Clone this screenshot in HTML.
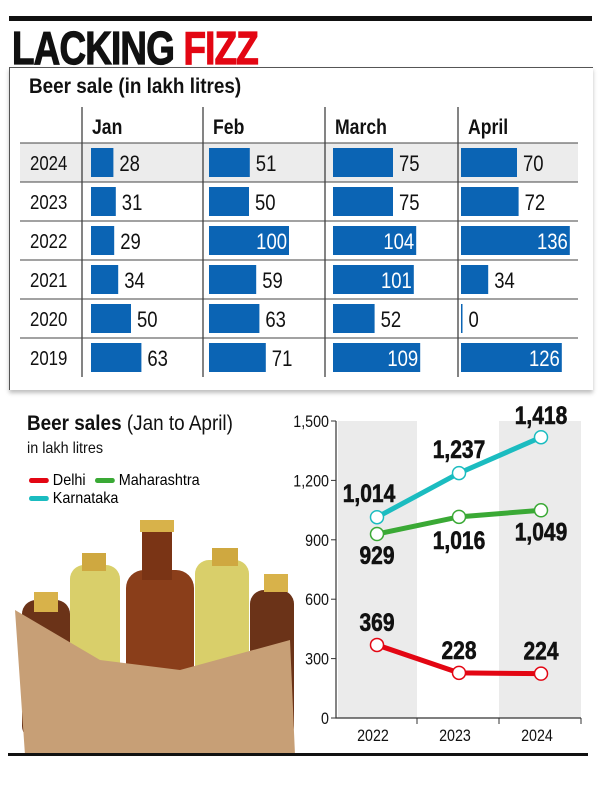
<!DOCTYPE html>
<html><head><meta charset="utf-8">
<style>
body{margin:0;background:#fff;width:600px;height:795px;overflow:hidden;position:relative;font-family:"Liberation Sans",sans-serif;}
.abs{position:absolute;white-space:nowrap;}
.cond{transform:scaleX(0.9);transform-origin:top left;}
</style></head>
<body>
<div class="abs" style="left:9px;top:16px;width:583px;height:5px;background:#111"></div>
<div class="abs" style="left:12px;top:21px;font:bold 46px 'Liberation Sans',sans-serif;letter-spacing:-1px;transform:scaleX(0.8);transform-origin:top left;color:#111;-webkit-text-stroke:1.2px #111">LACKING <span style="color:#e30613;-webkit-text-stroke:1.2px #e30613">FIZZ</span></div>
<div class="abs" style="left:9px;top:67px;width:583px;height:322px;border-top:1px solid #555;border-left:1px solid #555;box-shadow:0 3px 4px rgba(0,0,0,0.25)"></div>
<div class="abs cond" style="left:29px;top:75px;font:bold 21px 'Liberation Sans',sans-serif;color:#111">Beer sale (in lakh litres)</div>
<svg class="abs" style="left:0;top:0" width="600" height="795" id="tbl"></svg>
<svg class="abs" style="left:0;top:0" width="600" height="795">
 <g><rect x="22" y="600" width="48" height="140" rx="14" fill="#6b3318"/><rect x="34" y="592" width="24" height="20" fill="#d8b24a"/></g>
 <g><rect x="70" y="565" width="50" height="150" rx="14" fill="#d9cf6a"/><rect x="82" y="553" width="24" height="18" fill="#cfa840"/></g>
 <g><rect x="126" y="570" width="68" height="170" rx="18" fill="#8a3e1a"/><rect x="142" y="520" width="30" height="60" fill="#7a3415"/><rect x="140" y="520" width="34" height="12" fill="#d8b24a"/></g>
 <g><rect x="195" y="560" width="54" height="150" rx="14" fill="#d9cf6a"/><rect x="212" y="548" width="26" height="18" fill="#cfa840"/></g>
 <g><rect x="250" y="590" width="44" height="150" rx="14" fill="#6b3318"/><rect x="264" y="574" width="24" height="18" fill="#d8b24a"/></g>
 <path d="M15 610 L100 660 L180 670 L290 640 L295 755 L25 755 Z" fill="#c79f76"/>
</svg>
<svg class="abs" style="left:0;top:0" width="600" height="795" id="chart"></svg>
<div class="abs cond" style="left:27px;top:412px;font:21px 'Liberation Sans',sans-serif;color:#111"><b>Beer sales</b> (Jan to April)</div>
<div class="abs cond" style="left:27px;top:440px;font:16px 'Liberation Sans',sans-serif;color:#111">in lakh litres</div>
<div class="abs cond" style="left:29px;top:472px;font:16px 'Liberation Sans',sans-serif"><span style="display:inline-block;width:22px;height:5px;border-radius:3px;background:#e30613;vertical-align:middle"></span> Delhi</div>
<div class="abs cond" style="left:95px;top:472px;font:16px 'Liberation Sans',sans-serif"><span style="display:inline-block;width:22px;height:5px;border-radius:3px;background:#3aa935;vertical-align:middle"></span> Maharashtra</div>
<div class="abs cond" style="left:29px;top:490px;font:16px 'Liberation Sans',sans-serif"><span style="display:inline-block;width:22px;height:5px;border-radius:3px;background:#1bbcc0;vertical-align:middle"></span> Karnataka</div>
<script>
const years=["2024","2023","2022","2021","2020","2019"];
const months=["Jan","Feb","March","April"];
const janVals=[28,31,29,34,50,63];
const febVals=[51,50,100,59,63,71];
const marVals=[75,75,104,101,52,109];
const aprVals=[70,72,136,34,0,126];
const NS="http://www.w3.org/2000/svg";
function mk(p,t,a){const e=document.createElementNS(NS,t);for(const k in a)e.setAttribute(k,a[k]);p.appendChild(e);return e;}
function txt(p,x,y,s,a){const e=mk(p,'text',Object.assign({x:0,y:0,transform:'translate('+x+','+y+') scale(0.84,1)','font-family':'Liberation Sans, sans-serif',fill:'#111'},a));e.textContent=s;return e;}
const tbl=document.getElementById('tbl');
const colX=[20,82,203,325,458,578];
const barStart=[91,209,333,461];
const rowTop=143,rowH=39,hdrTop=107;
const barScale=0.8;
const sh=mk(tbl,'rect',{x:20,y:rowTop,width:558,height:rowH,fill:'#ececec'});


for(let i=1;i<5;i++){const l=mk(tbl,'line',{x1:colX[i],x2:colX[i],y1:hdrTop,y2:rowTop+rowH*6,stroke:'#333','stroke-width':1.2});

}
for(let r=0;r<6;r++){const l=mk(tbl,'line',{x1:20,x2:578,y1:rowTop+r*rowH,y2:rowTop+r*rowH,stroke:'#444','stroke-width':1});

}
months.forEach((m,i)=>{const t=txt(tbl,colX[i+1]+10,134,m,{'font-size':21,'font-weight':'bold'});

});
const allVals=[janVals,febVals,marVals,aprVals];
years.forEach((y,r)=>{
 const cy=rowTop+r*rowH;
 const t=txt(tbl,30,cy+27,y,{'font-size':20});
 
 
 allVals.forEach((vals,c)=>{
  const v=vals[r],w=Math.max(v*barScale,1.5),x0=barStart[c];
  const b=mk(tbl,'rect',{x:x0,y:cy+5,width:w,height:29,fill:'#0b64b4'});
  
  
  const inside=v>=100;
  const lt=txt(tbl,inside?x0+w-2:x0+w+6,cy+28,String(v),{'font-size':22,'text-anchor':inside?'end':'start',fill:inside?'#fff':'#111'});
  
  
 });
});
const cYears=["2022","2023","2024"];
const delhi=[369,228,224];
const maha=[929,1016,1049];
const karn=[1014,1237,1418];
const yTicks=[0,300,600,900,1200,1500];
const yTickLabels=["0","300","600","900","1,200","1,500"];
const ch=document.getElementById('chart');
const yS=v=>718-v*(297/1500);
const xS=i=>377+i*82;
[[338,417],[499,581]].forEach(b=>{const r=mk(ch,'rect',{x:b[0],y:421,width:b[1]-b[0],height:297,fill:'#ebebeb'});

});
const ax=mk(ch,'path',{d:'M336 421 V718 H581',stroke:'#333','stroke-width':1.2,fill:'none'});


yTicks.forEach((v,i)=>{mk(ch,'line',{x1:331,x2:336,y1:yS(v),y2:yS(v),stroke:'#333'});
 const t=txt(ch,329,yS(v)+6,yTickLabels[i],{'text-anchor':'end','font-size':17});
 
 });
[417,499,581].forEach(x=>mk(ch,'line',{x1:x,x2:x,y1:718,y2:724,stroke:'#333'}));
cYears.forEach((y,i)=>{const t=txt(ch,xS(i)-4,741,y,{'text-anchor':'middle','font-size':17});
 
 });
const series=[[delhi,'#e30613','delhi',[-14,-14,-14]],[maha,'#3aa935','maharashtra',[30,32,30]],[karn,'#1bbcc0','karnataka',[-15,-15,-13]]];
series.forEach(([vals,col,nm,off])=>{
 const pts=vals.map((v,i)=>xS(i)+','+yS(v)).join(' ');
 const pl=mk(ch,'polyline',{points:pts,stroke:col,'stroke-width':5,fill:'none'});
 
 
 vals.forEach((v,i)=>{const c=mk(ch,'circle',{cx:xS(i),cy:yS(v),r:6.5,fill:'#fff',stroke:col,'stroke-width':1.5});
  
  
  const t=txt(ch,xS(i)+(nm=='karnataka'&&i==0?-8:0),yS(v)+off[i],v.toLocaleString('en-US'),{'text-anchor':'middle','font-size':25,'font-weight':'bold',stroke:'#111','stroke-width':0.6});
  
  });
});
const bl=mk(ch,'rect',{x:8,y:753,width:580,height:3,fill:'#111'});


</script>
</body></html>
